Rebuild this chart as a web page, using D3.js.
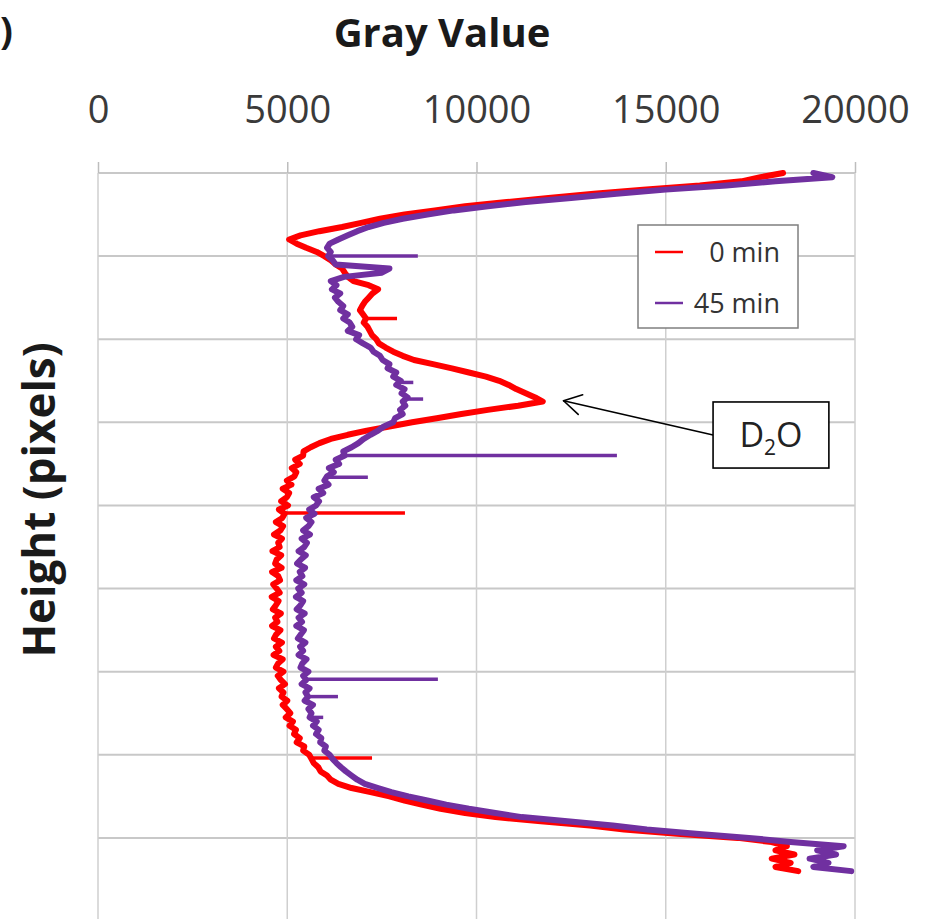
<!DOCTYPE html>
<html><head><meta charset="utf-8">
<script src="https://cdn.jsdelivr.net/npm/d3@7"></script>
<style>body{margin:0;background:#fff;overflow:hidden;} svg{display:block;}</style>
</head><body>
<svg id="chart" width="928" height="919"></svg>
<script>
// ---------- data ----------
const xTicks = [0, 5000, 10000, 15000, 20000];
const yGrid = [0, 100, 200, 300, 400, 500, 600, 700, 800, 900];
const seriesNames = ["0 min", "45 min"];
const seriesColors = ["#ff0000", "#7030a0"];
// sample heights (pixels), every 5 px
const heights = d3.range(0, 841, 5);
// gray value, 0 min
const gray0 = [
 18100,17500,17000,15900,14400,13100,11900,10800,9700,8900,
 8100,7450,6950,6450,5850,5350,5050,5250,5500,5780,
 5980,6150,6280,6450,6520,6600,6750,7150,7400,7250,
 7150,7050,6980,6920,7000,7080,7020,7120,7180,7240,
 7350,7420,7600,7800,8050,8350,8850,9350,9800,10250,
 10600,10850,11050,11300,11550,11750,11100,10300,9600,8950,
 8300,7700,7100,6600,6150,5850,
 5620,5430,5420,5210,5330,5120,5240,5190,4990,5110,
 4880,5050,4990,4840,5020,4780,4930,4870,4700,4890,
 4820,4650,4860,4760,4800,4610,4840,4720,4680,4850,
 4600,4760,4810,4630,4720,4800,4590,4770,4700,4620,
 4830,4680,4740,4600,4820,4710,4650,4860,4700,4790,
 4640,4880,4760,4700,4900,4750,4830,4940,4780,4900,
 4850,5000,4880,4990,5080,4960,5150,5060,5230,5180,
 5330,5250,5450,5420,5580,
 5640,5700,5820,5880,6050,6150,6350,6700,7200,7700,
 8100,8550,9050,9700,10500,11700,13000,13900,15300,16900,
 17800,18200,17900,18400,17800,18300,17900,18500
];
// gray value, 45 min
const gray45 = [
 18900,19400,17900,16600,15000,13700,12500,11300,10300,9400,
 8700,8050,7550,7150,6850,6600,6350,6120,6050,6150,
 6080,6200,6280,7700,7500,6500,
 6150,6300,6180,6400,6260,6350,6480,6400,6600,6480,
 6650,6720,6600,6900,6820,7000,7200,7280,7450,7520,
 7700,7650,7880,7800,8000,7880,8100,8020,8180,8050,
 8120,7980,8050,7850,7800,7550,7400,7200,7020,6880,
 6700,6480,6520,6280,6370,6100,6230,6050,5980,6090,
 5830,5950,5700,5840,5760,5580,5720,5500,5640,5560,
 5420,5600,5380,5520,5450,5300,5490,5360,5260,5470,
 5330,5400,5240,5450,5290,5380,5230,5420,5350,5250,
 5460,5300,5390,5240,5440,5360,5280,5480,5340,5420,
 5300,5510,5400,5350,5560,5420,5500,5380,5590,5480,
 5550,5460,5680,5560,5640,5590,5780,5680,5830,5760,
 5900,5870,6020,5980,6120,
 6200,6300,6420,6550,6700,6850,7050,7400,7750,8200,
 8700,9200,9800,10500,11200,12400,13600,14500,15800,17200,
 18300,19700,19000,19500,18800,19300,18900,19900
];
// isolated single-pixel spikes: [height, base value, spike value]
const spikes0 = [[175, 7050, 7900], [409, 4900, 8110], [704, 5580, 7240]];
const spikes45 = [[100, 6050, 8450], [252, 7900, 8330], [272, 8050, 8590],
  [340, 6400, 13710], [366, 6000, 7130], [609, 5500, 8980], [630, 5550, 6340], [655, 5600, 5950]];
// annotation anchor (data space)
const annotTip = [12300, 274];
const annotBox = [16250, 19310, 275.5, 355];

// ---------- chart ----------
const svg = d3.select("#chart");
const x = d3.scaleLinear().domain([0, 20000]).range([98, 855]);
const y = d3.scaleLinear().domain([0, 900]).range([173, 921]);

svg.append("rect").attr("width", 928).attr("height", 919).attr("fill", "#fff");

// grid
svg.append("g").selectAll("line").data(yGrid).join("line")
  .attr("x1", x(0)).attr("x2", x(20000))
  .attr("y1", d => y(d)).attr("y2", d => y(d))
  .attr("stroke", "#c8c8c8").attr("stroke-width", 2);
svg.append("g").selectAll("line").data(xTicks).join("line")
  .attr("x1", d => x(d)).attr("x2", d => x(d))
  .attr("y1", y(0)).attr("y2", y(900))
  .attr("stroke", "#cfcfcf").attr("stroke-width", 1.5);

// top axis
const ax = svg.append("g").attr("transform", `translate(0,${y(0)})`)
  .call(d3.axisTop(x).tickValues(xTicks).tickSize(11).tickPadding(39).tickFormat(d3.format("d")));
ax.select(".domain").remove();
ax.selectAll(".tick line").attr("stroke", "#bdbdbd").attr("stroke-width", 1.5);
ax.selectAll(".tick text").attr("font-family", "Open Sans").attr("font-size", 38)
  .attr("fill", "#3a3a3a");

// titles
svg.append("text").attr("x", 442).attr("y", 47).attr("text-anchor", "middle")
  .attr("font-family", "Open Sans").attr("font-weight", "bold").attr("font-size", 40)
  .attr("fill", "#1a1a1a").text("Gray Value");
svg.append("text").attr("transform", "translate(55,500) rotate(-90)").attr("text-anchor", "middle")
  .attr("font-family", "Open Sans").attr("font-weight", "bold").attr("font-size", 44)
  .attr("fill", "#1a1a1a").text("Height (pixels)");
svg.append("text").attr("x", 0).attr("y", 44).attr("text-anchor", "start")
  .attr("font-family", "Open Sans").attr("font-weight", "bold").attr("font-size", 38)
  .attr("fill", "#1a1a1a").text(")");

// series
const line = d3.line().x(d => x(d[1])).y(d => y(d[0]));
const allSeries = [
  {pts: heights.map((h, i) => [h, gray0[i]]), spikes: spikes0, color: seriesColors[0]},
  {pts: heights.map((h, i) => [h, gray45[i]]), spikes: spikes45, color: seriesColors[1]}
];
allSeries.forEach(s => {
  const g = svg.append("g");
  g.append("path").datum(s.pts).attr("d", line).attr("fill", "none")
    .attr("stroke", s.color).attr("stroke-width", 6)
    .attr("stroke-linejoin", "round").attr("stroke-linecap", "round");
  g.selectAll("line").data(s.spikes).join("line")
    .attr("x1", d => x(d[1])).attr("x2", d => x(d[2]))
    .attr("y1", d => y(d[0])).attr("y2", d => y(d[0]))
    .attr("stroke", s.color).attr("stroke-width", 3.5);
});

// legend
const lg = svg.append("g");
lg.append("rect").attr("x", 638).attr("y", 225).attr("width", 160).attr("height", 103)
  .attr("fill", "#fff").attr("stroke", "#7f7f7f").attr("stroke-width", 1.5);
seriesNames.forEach((n, i) => {
  const cy = 252 + i * 51;
  lg.append("line").attr("x1", 655).attr("x2", 683).attr("y1", cy).attr("y2", cy)
    .attr("stroke", seriesColors[i]).attr("stroke-width", 2.5);
  lg.append("text").attr("x", 780).attr("y", cy + 10).attr("text-anchor", "end")
    .attr("font-family", "Open Sans").attr("font-size", 27).attr("fill", "#333").text(n);
});

// annotation
const tipX = x(annotTip[0]), tipY = y(annotTip[1]);
const bx0 = x(annotBox[0]), bx1 = x(annotBox[1]), by0 = y(annotBox[2]), by1 = y(annotBox[3]);
const tailX = bx0, tailY = by0 + 33;
svg.append("line").attr("x1", tailX).attr("y1", tailY).attr("x2", tipX).attr("y2", tipY)
  .attr("stroke", "#000").attr("stroke-width", 1.6);
const ang = Math.atan2(tailY - tipY, tailX - tipX);
[Math.PI / 6, -Math.PI / 6].forEach(a => {
  svg.append("line").attr("x1", tipX).attr("y1", tipY)
    .attr("x2", tipX + 20 * Math.cos(ang + a)).attr("y2", tipY + 20 * Math.sin(ang + a))
    .attr("stroke", "#000").attr("stroke-width", 1.6).attr("stroke-linecap", "round");
});
svg.append("rect").attr("x", bx0).attr("y", by0).attr("width", bx1 - bx0).attr("height", by1 - by0)
  .attr("fill", "#fff").attr("stroke", "#000").attr("stroke-width", 1.6);
const t = svg.append("text").attr("x", (bx0 + bx1) / 2).attr("y", by0 + 45).attr("text-anchor", "middle")
  .attr("font-family", "Open Sans").attr("font-size", 34).attr("fill", "#222");
t.append("tspan").text("D");
t.append("tspan").attr("font-size", 21).attr("dy", 8).text("2");
t.append("tspan").attr("dy", -8).text("O");
</script>
</body></html>
